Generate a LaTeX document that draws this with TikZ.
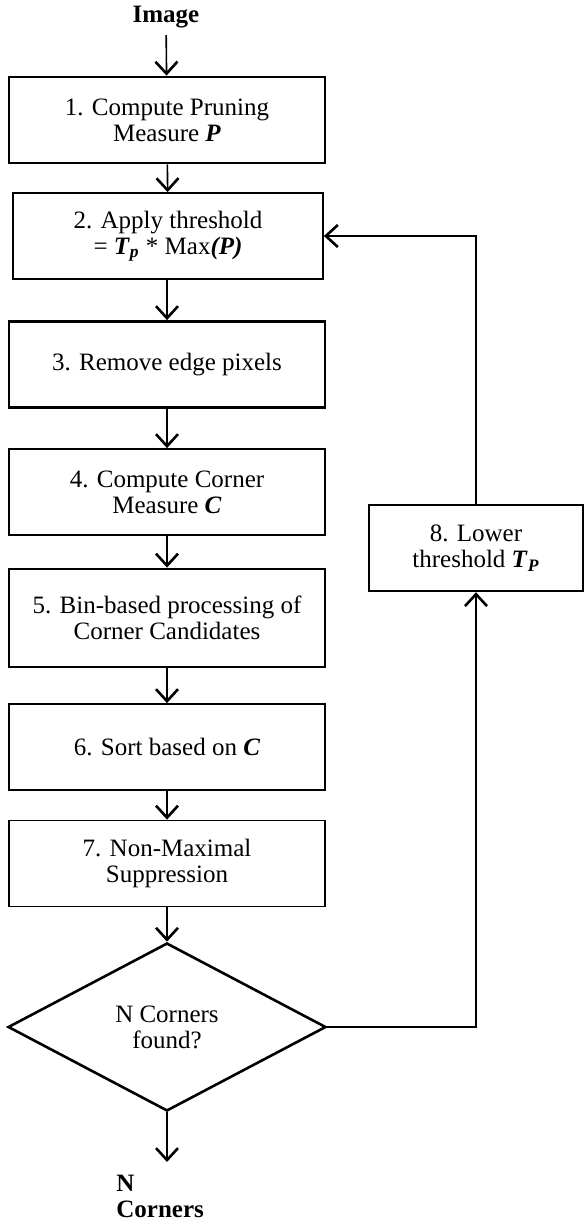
\documentclass[tikz,border=0pt]{standalone}
\usepackage{fontspec}
\setmainfont{Liberation Serif}
\usetikzlibrary{arrows.meta, shapes.geometric}

\newcommand{\bivar}[1]{\textbf{\textit{#1}}}

\begin{document}
\begin{tikzpicture}[x=0.5pt, y=-0.5pt,
    >={Straight Barb[length=6pt, width=11pt, line width=1.3pt]},
    every node/.style={font=\fontsize{12.5}{13}\selectfont, align=center},
    stepbox/.style={draw, line width=0.9pt, minimum width=158pt, minimum height=43pt, inner sep=2pt},
    heavy/.style={line width=1.4pt},
    decision/.style={diamond, draw, line width=1.3pt, minimum width=159pt, minimum height=84pt, inner sep=0pt},
    flow/.style={->, line width=0.8pt}]
    \useasboundingbox (0,0) rectangle (584,1222);
    \node[font=\fontsize{12.5}{13}\selectfont\bfseries] (img) at (166,17) {Image};
    \node[stepbox, heavy] (s1) at (167,120) {1. Compute Pruning\\Measure \bivar{P}};
    \node[stepbox, minimum width=155pt] (s2) at (168,236) {2. Apply threshold\\= \bivar{T}\textsubscript{\bivar{p}} * Max\bivar{(P)}};
    \node[stepbox, heavy] (s3) at (167,364.5) {3. Remove edge pixels};
    \node[stepbox] (s4) at (167,492) {4. Compute Corner\\Measure \bivar{C}};
    \node[stepbox, heavy, minimum height=49pt] (s5) at (167,618) {5. Bin-based processing of\\Corner Candidates};
    \node[stepbox] (s6) at (167,747) {6. Sort based on \bivar{C}};
    \node[stepbox] (s7) at (167,863.5) {7. Non-Maximal\\Suppression};
    \node[decision] (found) at (167,1027) {N Corners\\found?};
    \node[stepbox, line width=1.2pt, minimum width=107pt] (s8) at (476,548) {8. Lower\\threshold \bivar{T}\textsubscript{\bivar{P}}};
    \node[font=\fontsize{12.5}{13}\selectfont\bfseries, align=left, anchor=west, inner sep=0pt] (out) at (116,1196) {N\\Corners};
    \coordinate (end) at (167,1162);

    \draw[flow] (img) -- (s1);
    \draw[flow] (s1) -- (s2);
    \draw[flow] (s2.south -| s3.north) -- (s3);
    \draw[flow] (s3) -- (s4);
    \draw[flow] (s4) -- (s5);
    \draw[flow] (s5) -- (s6);
    \draw[flow] (s6) -- (s7);
    \draw[flow] (s7) -- (found);
    \draw[flow] (found) -- (end);
    % loop back when too few corners
    \draw[->, line width=1.1pt] (found.east) -| (s8.south);
    \draw[->, line width=1.1pt] (s8.north) |- (s2.east);
\end{tikzpicture}
\end{document}
